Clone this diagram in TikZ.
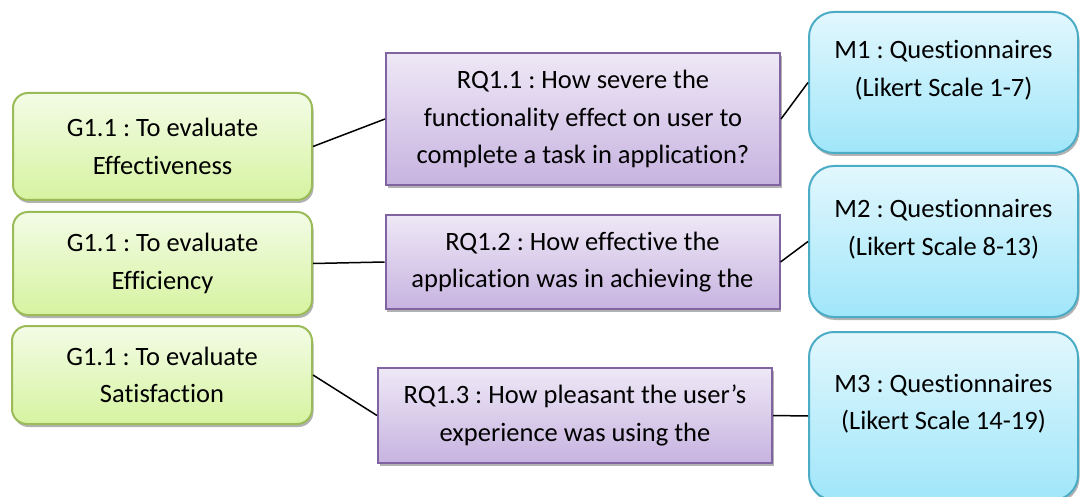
\documentclass[tikz,border=0pt]{standalone}
\usepackage{fontspec}
\setmainfont{Carlito}[Ligatures=NoCommon]
\usetikzlibrary{shadows}
\definecolor{gborder}{HTML}{9BBB59}
\definecolor{gtop}{HTML}{F3FCE6}
\definecolor{gbot}{HTML}{D6F3A0}
\definecolor{pborder}{HTML}{8064A2}
\definecolor{ptop}{HTML}{EEE8F6}
\definecolor{pbot}{HTML}{C7B3E0}
\definecolor{bborder}{HTML}{4BACC6}
\definecolor{btop}{HTML}{E2F7FD}
\definecolor{bbot}{HTML}{A0E6FA}
\tikzset{
  x=1pt, y=1pt,
  boxtext/.style={align=center, font=\fontsize{26.5}{37.5}\selectfont\frenchspacing, text=black, inner sep=0pt},
  wordshadow/.style={drop shadow={shadow xshift=1.5pt, shadow yshift=-3pt, opacity=0.3, fill=black}},
  goal/.style={boxtext, wordshadow, draw=gborder, line width=2pt, rounded corners=15pt,
    top color=gtop, bottom color=gbot, minimum width=299pt},
  rq/.style={boxtext, wordshadow, draw=pborder, line width=2pt,
    top color=ptop, bottom color=pbot, minimum width=394pt},
  meth/.style={boxtext, wordshadow, draw=bborder, line width=2pt, rounded corners=25pt,
    top color=btop, bottom color=bbot, minimum width=269pt},
  link/.style={draw=black, line width=1.5pt}
}
\begin{document}
\begin{tikzpicture}
\useasboundingbox[fill=white] (0,0) rectangle (1081,496);
% goals
\node[goal, minimum height=107pt] (g1) at (162.5,349.5) {G1.1 : To evaluate\\Effectiveness};
\node[goal, minimum height=103pt] (g2) at (162.5,232.5) {G1.1 : To evaluate\\Efficiency};
\node[goal, minimum height=98pt, minimum width=300pt] (g3) at (162,121) {G1.1 : To evaluate\\Satisfaction};
% research questions
\node[rq, minimum height=132pt] (rq1) at (583,377) {RQ1.1 : How severe the\\functionality effect on user to\\complete a task in application?};
\node[rq, minimum height=94pt] (rq2) at (582.5,234) {RQ1.2 : How effective the\\application was in achieving the};
\node[rq, minimum height=95pt] (rq3) at (575,80.5) {RQ1.3 : How pleasant the user’s\\experience was using the};
% methods
\node[meth, minimum height=141pt] (m1) at (943.5,413.5) {M1 : Questionnaires\\(Likert Scale 1-7)\\[-21pt]\strut};
\node[meth, minimum height=151pt] (m2) at (943.5,254.5) {M2 : Questionnaires\\(Likert Scale 8-13)\\[-21pt]\strut};
\node[meth, minimum height=168pt] (m3) at (943.5,80) {M3 : Questionnaires\\(Likert Scale 14-19)\\[-21pt]\strut};
% connectors
\draw[link] (g1.east) -- (rq1.west);
\draw[link] (rq1.east) -- (m1.west);
\draw[link] (g2.east) -- (rq2.west);
\draw[link] (rq2.east) -- (m2.west);
\draw[link] (g3.east) -- (rq3.west);
\draw[link] (rq3.east) -- (m3.west);
\end{tikzpicture}
\end{document}
